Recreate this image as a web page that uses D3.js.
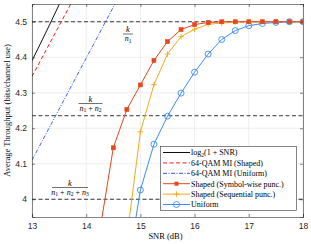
<!DOCTYPE html>
<html>
<head>
<meta charset="utf-8">
<script src="https://cdn.jsdelivr.net/npm/d3@7"></script>
<style>
  body { margin: 0; background: #fff; }
  svg { display: block; }
  .tick text { font-family: "Liberation Sans", Arial, sans-serif; font-size: 8.5px; fill: #262626; }
  .serif { font-family: "Liberation Serif", "DejaVu Serif", serif; }
</style>
</head>
<body>
<svg id="chart" width="311" height="244"></svg>
<script>
const margin = { top: 4, right: 8, bottom: 27, left: 32 };
const W = 311, H = 244;
const width = W - margin.left - margin.right;
const height = H - margin.top - margin.bottom;

// values
const xTicks = [13, 14, 15, 16, 17, 18];
const yTicks = [4, 4.1, 4.2, 4.3, 4.4, 4.5];

const capacity = [[13, 4.39], [13.25, 4.468], [13.5, 4.548], [13.6, 4.58]];
const miShaped = [[13, 4.346], [13.4, 4.46], [13.75, 4.56]];
const miUniform = [[13, 4.11], [13.8, 4.34], [14.6, 4.57]];

const snrSym = [14.25, 14.5, 14.75, 15, 15.25, 15.5, 15.75, 16, 16.25, 16.5, 16.75, 17, 17.25, 17.5, 17.75, 18];
const thrSym = [3.91, 4.145, 4.253, 4.322, 4.391, 4.444, 4.478, 4.492, 4.498, 4.5, 4.5, 4.5, 4.5, 4.5, 4.5, 4.5];

const snrSeq = [14.75, 15, 15.25, 15.5, 15.75, 16, 16.25, 16.5, 16.75, 17, 17.25, 17.5, 17.75, 18];
const thrSeq = [3.89, 4.19, 4.323, 4.409, 4.458, 4.479, 4.493, 4.496, 4.499, 4.5, 4.5, 4.5, 4.5, 4.5];

const snrUni = [14.75, 15, 15.25, 15.5, 15.75, 16, 16.25, 16.5, 16.75, 17, 17.25, 17.5, 17.75, 18];
const thrUni = [3.79, 4.026, 4.155, 4.234, 4.299, 4.358, 4.409, 4.45, 4.475, 4.489, 4.495, 4.498, 4.5, 4.5];

const levels = [4.5, 4.2353, 4.0];

const RED = "#e5461e", ORANGE = "#eeac1c", BLUE = "#3c8cf2";

const svg = d3.select("#chart");
const g = svg.append("g").attr("transform", `translate(${margin.left},${margin.top})`);

const x = d3.scaleLinear().domain([13, 18]).range([0, width]);
const y = d3.scaleLinear().domain([3.95, 4.55]).range([height, 0]);

g.append("clipPath").attr("id", "clip")
  .append("rect").attr("width", width).attr("height", height);

// grid
g.selectAll(".gx").data(xTicks).join("line")
  .attr("x1", d => x(d)).attr("x2", d => x(d)).attr("y1", 0).attr("y2", height)
  .attr("stroke", "#e6e6e6").attr("stroke-width", 0.7);
g.selectAll(".gy").data(yTicks).join("line")
  .attr("y1", d => y(d)).attr("y2", d => y(d)).attr("x1", 0).attr("x2", width)
  .attr("stroke", "#e6e6e6").attr("stroke-width", 0.7);

const plot = g.append("g").attr("clip-path", "url(#clip)");
const line = d3.line().x(d => x(d[0])).y(d => y(d[1]));

// threshold levels
plot.selectAll(".lvl").data(levels).join("line")
  .attr("x1", 0).attr("x2", width).attr("y1", d => y(d)).attr("y2", d => y(d))
  .attr("stroke", "#222").attr("stroke-width", 0.9).attr("stroke-dasharray", "4,2.5");

plot.append("path").datum(capacity).attr("d", line)
  .attr("fill", "none").attr("stroke", "#111").attr("stroke-width", 1);
plot.append("path").datum(miShaped).attr("d", line)
  .attr("fill", "none").attr("stroke", "#ff1a1a").attr("stroke-width", 1).attr("stroke-dasharray", "4,2.5");
plot.append("path").datum(miUniform).attr("d", line)
  .attr("fill", "none").attr("stroke", "#2a55f0").attr("stroke-width", 0.9).attr("stroke-dasharray", "4,1.5,1,1.5");

const sym = snrSym.map((s, i) => [s, thrSym[i]]);
const seq = snrSeq.map((s, i) => [s, thrSeq[i]]);
const uni = snrUni.map((s, i) => [s, thrUni[i]]);

plot.append("path").datum(uni).attr("d", line)
  .attr("fill", "none").attr("stroke", BLUE).attr("stroke-width", 1);
plot.append("path").datum(seq).attr("d", line)
  .attr("fill", "none").attr("stroke", ORANGE).attr("stroke-width", 1);
plot.append("path").datum(sym).attr("d", line)
  .attr("fill", "none").attr("stroke", RED).attr("stroke-width", 1);

plot.selectAll(".mu").data(uni).join("circle")
  .attr("cx", d => x(d[0])).attr("cy", d => y(d[1])).attr("r", 3)
  .attr("fill", "none").attr("stroke", BLUE).attr("stroke-width", 0.9);
plot.selectAll(".mq").data(seq).join("path")
  .attr("d", d => `M${x(d[0]) - 2.8},${y(d[1])}h5.6M${x(d[0])},${y(d[1]) - 2.8}v5.6`)
  .attr("stroke", ORANGE).attr("stroke-width", 0.9);
plot.selectAll(".ms").data(sym).join("rect")
  .attr("x", d => x(d[0]) - 2).attr("y", d => y(d[1]) - 2).attr("width", 4).attr("height", 4)
  .attr("fill", RED).attr("stroke", RED).attr("stroke-width", 0.6);

// axes
g.append("g").attr("transform", `translate(0,${height})`)
  .call(d3.axisBottom(x).tickValues(xTicks).tickSize(-3).tickPadding(6).tickFormat(d3.format("d")));
g.append("g")
  .call(d3.axisLeft(y).tickValues(yTicks).tickSize(-3).tickPadding(5).tickFormat(d => d === 4 ? "4" : d3.format(".1f")(d)));
g.append("g").attr("transform", `translate(${width},0)`)
  .call(d3.axisRight(y).tickValues(yTicks).tickSize(-3).tickFormat(""));
g.append("g")
  .call(d3.axisTop(x).tickValues(xTicks).tickSize(-3).tickFormat(""));
g.selectAll(".domain, .tick line").attr("stroke", "#333").attr("stroke-width", 0.6);

// axis labels
svg.append("text").attr("class", "serif")
  .attr("x", margin.left + width / 2 - 2).attr("y", 239)
  .attr("text-anchor", "middle").attr("font-size", 8.5).text("SNR (dB)");
svg.append("text").attr("class", "serif")
  .attr("transform", `translate(10,${margin.top + height / 2}) rotate(-90)`)
  .attr("text-anchor", "middle").attr("font-size", 8.5).text("Average Throughput (bits/channel use)");

// fraction labels
function frac(cx, cy, denom, barW) {
  const f = svg.append("g").attr("class", "serif").attr("font-size", 8.5);
  f.append("text").attr("x", cx).attr("y", cy - 2).attr("text-anchor", "middle")
    .attr("font-style", "italic").text("k");
  f.append("line").attr("x1", cx - barW / 2).attr("x2", cx + barW / 2)
    .attr("y1", cy).attr("y2", cy).attr("stroke", "#111").attr("stroke-width", 0.6);
  const t = f.append("text").attr("x", cx).attr("y", cy + 7).attr("text-anchor", "middle").attr("font-size", 8);
  denom.forEach((n, i) => {
    if (i > 0) t.append("tspan").attr("dy", -1.5).text(" + ");
    t.append("tspan").attr("font-style", "italic").attr("dy", i > 0 ? 0 : null).text("n");
    t.append("tspan").attr("font-size", 5.5).attr("dy", 1.5).text(n);
  });
}
frac(128, 34, ["1"], 10);
frac(90.5, 103.5, ["1", "2"], 24);
frac(70, 187.5, ["1", "2", "3"], 36);

// legend
const legend = svg.append("g").attr("class", "serif").attr("font-size", 8);
legend.append("rect").attr("x", 160.5).attr("y", 146.5).attr("width", 136).attr("height", 64)
  .attr("fill", "#fff").attr("stroke", "#333").attr("stroke-width", 0.6);
const entries = [
  { label: ["log", "2", "(1 + SNR)"], color: "#111", dash: null },
  { label: "64-QAM MI (Shaped)", color: "#ff1a1a", dash: "4,2.5" },
  { label: "64-QAM MI (Uniform)", color: "#2a55f0", dash: "4,1.5,1,1.5" },
  { label: "Shaped (Symbol-wise punc.)", color: RED, marker: "square" },
  { label: "Shaped (Sequential punc.)", color: ORANGE, marker: "plus" },
  { label: "Uniform", color: BLUE, marker: "circle" }
];
entries.forEach((e, i) => {
  const ly = 152.5 + i * 10.4;
  legend.append("line").attr("x1", 163).attr("x2", 190).attr("y1", ly).attr("y2", ly)
    .attr("stroke", e.color).attr("stroke-width", 1).attr("stroke-dasharray", e.dash);
  if (e.marker === "square") {
    legend.append("rect").attr("x", 174.5).attr("y", ly - 2).attr("width", 4).attr("height", 4).attr("fill", e.color);
  } else if (e.marker === "plus") {
    legend.append("path").attr("d", `M${173.7},${ly}h5.6M${176.5},${ly - 2.8}v5.6`)
      .attr("stroke", e.color).attr("stroke-width", 0.9);
  } else if (e.marker === "circle") {
    legend.append("circle").attr("cx", 176.5).attr("cy", ly).attr("r", 3)
      .attr("fill", "none").attr("stroke", e.color).attr("stroke-width", 0.9);
  }
  const t = legend.append("text").attr("x", 191).attr("y", ly + 2.8);
  if (Array.isArray(e.label)) {
    t.append("tspan").text(e.label[0]);
    t.append("tspan").attr("font-size", 5.5).attr("dy", 2).text(e.label[1]);
    t.append("tspan").attr("dy", -2).text(e.label[2]);
  } else {
    t.text(e.label);
  }
});
</script>
</body>
</html>
